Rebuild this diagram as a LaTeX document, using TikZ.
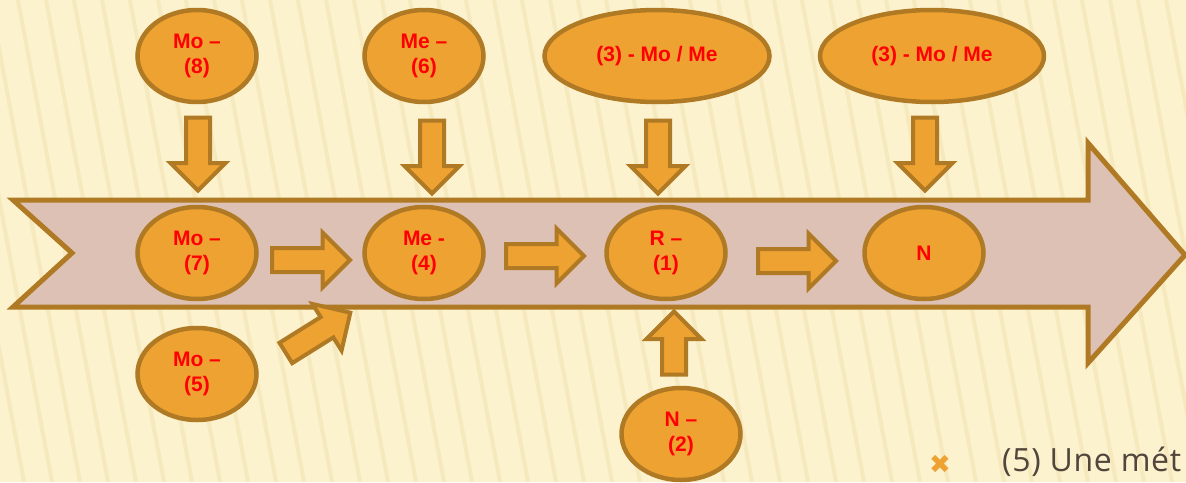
\documentclass[tikz,border=0pt]{standalone}
\usepackage{fontspec}
\usetikzlibrary{shapes.geometric,shapes.arrows}
\newfontfamily\lblfont{Liberation Sans}
\newfontfamily\bodyfont{Open Sans}[LetterSpace=2]
\newfontfamily\symfont{DejaVu Sans}
\definecolor{paper}{RGB}{252,242,205}
\definecolor{stripe}{RGB}{246,233,190}
\definecolor{rim}{RGB}{176,122,37}
\definecolor{band}{RGB}{221,193,181}
\definecolor{pumpkin}{RGB}{238,162,50}
\definecolor{inkred}{RGB}{255,0,0}
\definecolor{slate}{RGB}{80,70,60}
\begin{document}
\begin{tikzpicture}[x=1pt,y=-1pt]
  \useasboundingbox (0,0) rectangle (1186,482);
  \clip (0,0) rectangle (1186,482);
  \fill[paper] (0,0) rectangle (1186,482);
  \foreach \x in {-150,-122,...,1200}
    \draw[stripe, line width=4pt] (\x,0) -- (\x+90,482);
  % the band
  \draw[rim, fill=band, line width=5pt, line join=miter]
    (13,200) -- (1088,200) -- (1088,143) -- (1185,255) -- (1088,363)
    -- (1088,307) -- (13,307) -- (72,253) -- cycle;
  \begin{scope}[every node/.style={ellipse, draw=rim, fill=pumpkin, line width=4.5pt,
      minimum width=119pt, minimum height=92pt, inner sep=0pt, align=center,
      text=inkred, font=\lblfont\bfseries\fontsize{21}{25}\selectfont}]
    \node (mo8) at (197,56) {Mo –\\(8)};
    \node (me6) at (424,56) {Me –\\(6)};
    \node[minimum width=225pt] (mm3a) at (657,56) {(3) - Mo / Me};
    \node[minimum width=224pt] (mm3b) at (932,56) {(3) - Mo / Me};
    \node (mo7) at (197,253) {Mo –\\(7)};
    \node (me4) at (424,253) {Me -\\(4)};
    \node (r1)  at (666,253) {R –\\(1)};
    \node (n)   at (924,253) {N};
    \node (mo5) at (197,374) {Mo –\\(5)};
    \node (n2)  at (681,434) {N –\\(2)};
  \end{scope}
  \begin{scope}[every node/.style={single arrow, draw=rim, fill=pumpkin, line width=4pt,
      inner xsep=0pt, inner ysep=10pt, single arrow head extend=15.5pt,
      minimum height=78pt}]
    \node[rotate=-90, minimum height=73pt] (d8) at (198,148) {};
    \node[rotate=-90, minimum height=73pt] (d6) at (432,151) {};
    \node[rotate=-90, minimum height=73pt] (d3a) at (658,151) {};
    \node[rotate=-90, minimum height=73pt] (d3b) at (925,148) {};
    \node (h74) at (305,260) {};
    \node (h41) at (539,256) {};
    \node (h1n) at (791,261) {};
    \node[rotate=90, minimum height=63pt] (u2) at (674,349) {};
    \node[rotate=32, minimum height=76pt] (g5) at (313,336) {};
  \end{scope}
  \node[text=pumpkin, font=\symfont\fontsize{26}{26}\selectfont] (bul) at (940,464) {✖};
  \node[anchor=base west, inner sep=0pt, text=slate,
    font=\bodyfont\fontsize{32}{32}\selectfont] (txt) at (1002,471) {(5) Une mét};
\end{tikzpicture}
\end{document}
